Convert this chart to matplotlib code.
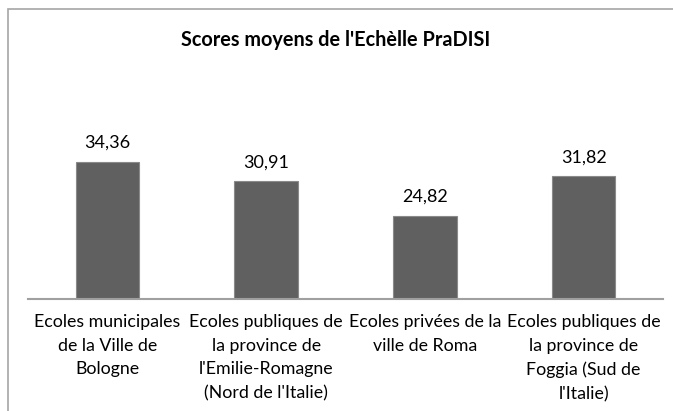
import matplotlib
matplotlib.use('Agg')
import matplotlib.pyplot as plt
from matplotlib.patches import Rectangle

# data
categories = [
    "Ecoles municipales\nde la Ville de\nBologne",
    "Ecoles publiques de\nla province de\nl'Emilie-Romagne\n(Nord de l'Italie)",
    "Ecoles privées de la\nville de Roma",
    "Ecoles publiques de\nla province de\nFoggia (Sud de\nl'Italie)",
]
scores = [34.36, 30.91, 24.82, 31.82]
score_labels = ["34,36", "30,91", "24,82", "31,82"]
title = "Scores moyens de l'Echèlle PraDISI"

plt.rcParams['font.family'] = ['Lato', 'DejaVu Sans']

W, H = 673, 411
fig = plt.figure(figsize=(W / 100, H / 100), dpi=100)
fig.patch.set_facecolor('white')

# chart frame (only top and left edges visible in the crop)
fig.patches.append(Rectangle((7.5 / W, -0.2), 2, 1.2 - 9.5 / H,
                             transform=fig.transFigure, fill=False,
                             edgecolor='#a6a6a6', linewidth=1.2))

ax = fig.add_axes([28 / W, (H - 298.5) / H, 635 / W, 168 / H])
x = range(len(scores))
bars = ax.bar(x, [s - 10 for s in scores], bottom=10, width=0.4,
              color='#606060', edgecolor='#8a8a8a', linewidth=0.8, zorder=2)
ax.set_ylim(10, 40)
ax.set_xlim(-0.5, len(scores) - 0.5)

for xi, s, lab in zip(x, scores, score_labels):
    ax.annotate(lab, (xi, s), xytext=(0, 8), textcoords='offset points',
                ha='center', va='bottom', fontsize=13, color='black')

for sp in ['top', 'right', 'left']:
    ax.spines[sp].set_visible(False)
ax.spines['bottom'].set_color('#a0a0a0')
ax.spines['bottom'].set_linewidth(1.5)
ax.set_yticks([])
ax.set_xticks(list(x))
ax.set_xticklabels(categories, fontsize=12.8, linespacing=1.6)
ax.tick_params(axis='x', length=0, pad=11)

fig.text(336 / W, 1 - 40 / H, title, ha='center', va='center',
         fontsize=14.3, fontweight='bold')

fig.savefig('out.png', dpi=100, facecolor='white')
